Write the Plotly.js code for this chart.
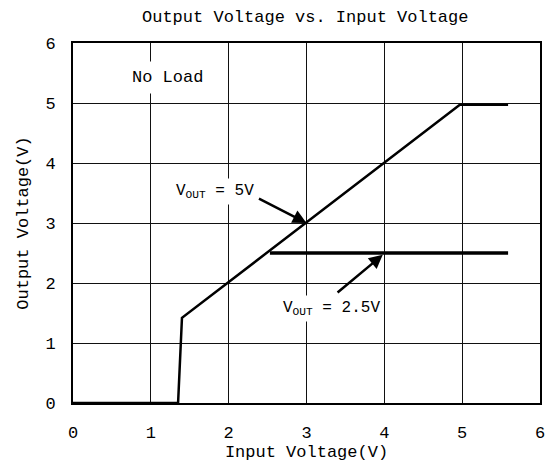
<!DOCTYPE html>
<html>
<head>
<meta charset="utf-8">
<script src="https://cdn.plot.ly/plotly-3.0.1.min.js"></script>
<style>html,body{margin:0;padding:0;background:#fff;}#chart{width:550px;height:471px;}</style>
</head>
<body>
<div id="chart"></div>
<script>
// Data
var vin5 = [0, 1.35, 1.40, 4.97, 5.59];
var vout5 = [0, 0, 1.42, 4.97, 4.97];
var vin25 = [2.53, 5.59];
var vout25 = [2.5, 2.5];
var xTicks = [0, 1, 2, 3, 4, 5, 6];
var yTicks = [0, 1, 2, 3, 4, 5, 6];

var FONT = '"Liberation Mono", "DejaVu Sans Mono", monospace';

var traces = [
  {x: vin5, y: vout5, mode: 'lines', line: {color: '#000', width: 2.5}, showlegend: false, hoverinfo: 'skip'},
  {x: vin25, y: vout25, mode: 'lines', line: {color: '#000', width: 3.5}, showlegend: false, hoverinfo: 'skip'}
];

var layout = {
  width: 550, height: 471,
  margin: {l: 73, r: 10, t: 43, b: 68},
  paper_bgcolor: '#fff', plot_bgcolor: '#fff',
  font: {family: FONT, color: '#000', size: 17},
  title: {text: 'Output Voltage vs. Input Voltage', font: {family: FONT, size: 17, color: '#000'}, x: 0.555, xanchor: 'center', y: 0.965, yanchor: 'middle'},
  xaxis: {
    range: [0, 6], tickvals: xTicks, ticktext: xTicks.map(String),
    showgrid: true, gridcolor: '#111', gridwidth: 1,
    showline: true, linecolor: '#000', linewidth: 2, mirror: true,
    zeroline: false, ticks: '', ticklabelstandoff: 13,
    tickfont: {family: FONT, size: 17, color: '#000'},
    title: {text: 'Input Voltage(V)', font: {family: FONT, size: 17, color: '#000'}, standoff: 2}
  },
  yaxis: {
    range: [0, 6], tickvals: yTicks, ticktext: yTicks.map(String),
    showgrid: true, gridcolor: '#111', gridwidth: 1,
    showline: true, linecolor: '#000', linewidth: 2, mirror: true,
    zeroline: false, ticks: '', ticklabelstandoff: 12,
    tickfont: {family: FONT, size: 17, color: '#000'},
    title: {text: 'Output Voltage(V)', font: {family: FONT, size: 17, color: '#000'}, standoff: 12}
  },
  annotations: [
    {x: 1.21, y: 5.43, xref: 'x', yref: 'y', text: 'No Load', showarrow: false, bgcolor: '#fff', borderpad: 6, font: {family: FONT, size: 17, color: '#000'}},
    {x: 1.82, y: 3.52, xref: 'x', yref: 'y', text: 'V<sub>OUT</sub> = 5V', showarrow: false, bgcolor: '#fff', borderpad: 3, font: {family: FONT, size: 16, color: '#000'}},
    {x: 3.32, y: 1.58, xref: 'x', yref: 'y', text: 'V<sub>OUT</sub> = 2.5V', showarrow: false, bgcolor: '#fff', borderpad: 3, font: {family: FONT, size: 16, color: '#000'}},
    {x: 3.0, y: 3.0, ax: 2.37, ay: 3.42, xref: 'x', yref: 'y', axref: 'x', ayref: 'y', text: '', showarrow: true, arrowhead: 2, arrowsize: 1.1, arrowwidth: 2.5, arrowcolor: '#000'},
    {x: 3.98, y: 2.47, ax: 3.38, ay: 1.82, xref: 'x', yref: 'y', axref: 'x', ayref: 'y', text: '', showarrow: true, arrowhead: 2, arrowsize: 1.1, arrowwidth: 2.5, arrowcolor: '#000'}
  ]
};

Plotly.newPlot('chart', traces, layout, {staticPlot: true, displayModeBar: false});
</script>
</body>
</html>
